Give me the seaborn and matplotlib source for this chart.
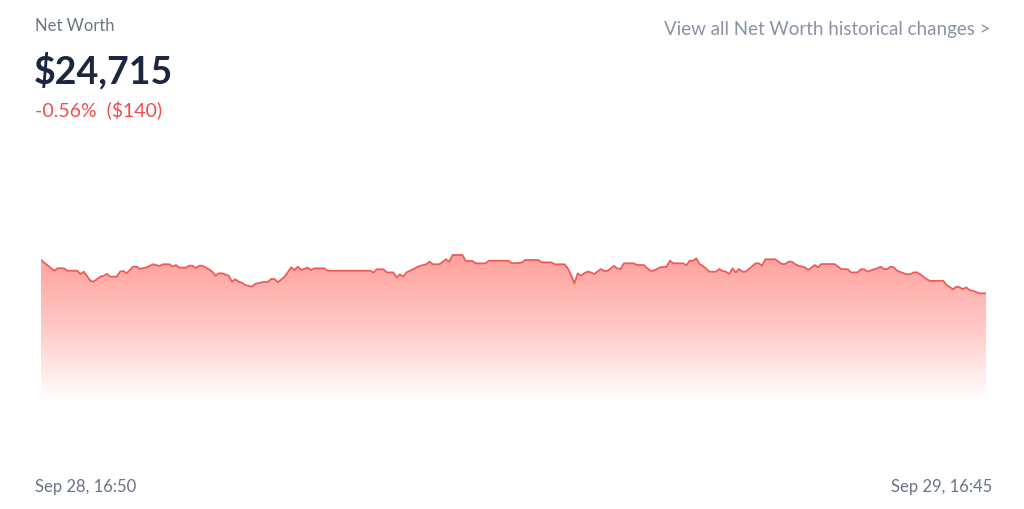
import pandas as pd
import numpy as np
import matplotlib
matplotlib.use("Agg")
import matplotlib.pyplot as plt
from matplotlib.colors import LinearSegmentedColormap
import seaborn as sns

# minutes after Sep 28, 16:50 and net worth in dollars
minutes = [0, 20, 25, 35, 40, 55, 60, 65, 75, 80, 90, 95, 100, 105, 115, 120, 125, 130, 140, 145,
           150, 160, 165, 170, 180, 185, 195, 200, 205, 210, 220, 225, 230, 235, 240, 245, 255, 260,
           265, 270, 275, 285, 290, 295, 300, 305, 310, 320, 325, 335, 345, 350, 355, 360, 370, 380,
           385, 390, 395, 405, 410, 415, 430, 435, 500, 505, 510, 520, 525, 535, 540, 545, 550, 555,
           565, 575, 585, 590, 595, 605, 615, 620, 625, 640, 645, 655, 660, 675, 680, 710, 715, 730,
           735, 755, 760, 775, 780, 795, 800, 805, 810, 815, 820, 825, 830, 835, 840, 850, 855, 860,
           870, 875, 880, 885, 900, 905, 915, 925, 930, 940, 950, 955, 960, 975, 980, 985, 990, 995,
           1000, 1005, 1015, 1025, 1030, 1035, 1040, 1045, 1050, 1055, 1060, 1065, 1070, 1085, 1090,
           1095, 1100, 1115, 1125, 1130, 1135, 1140, 1145, 1150, 1160, 1165, 1175, 1180, 1185, 1205,
           1215, 1225, 1230, 1240, 1245, 1250, 1255, 1265, 1270, 1275, 1280, 1285, 1290, 1295, 1300,
           1310, 1315, 1320, 1325, 1330, 1335, 1345, 1350, 1370, 1375, 1385, 1390, 1395, 1400, 1405,
           1410, 1415, 1425, 1435]
values = [24855, 24810, 24820, 24820, 24810, 24810, 24796, 24806, 24768, 24764, 24785, 24788, 24797,
          24785, 24785, 24806, 24809, 24799, 24827, 24827, 24818, 24824, 24830, 24837, 24830, 24837,
          24837, 24827, 24834, 24823, 24823, 24831, 24831, 24821, 24831, 24831, 24816, 24806, 24789,
          24799, 24799, 24789, 24764, 24774, 24764, 24760, 24750, 24743, 24754, 24761, 24764, 24776,
          24774, 24762, 24785, 24824, 24813, 24827, 24813, 24823, 24813, 24820, 24820, 24810, 24810,
          24802, 24816, 24816, 24803, 24803, 24782, 24795, 24785, 24803, 24816, 24830, 24837, 24848,
          24837, 24837, 24858, 24848, 24876, 24876, 24851, 24851, 24841, 24841, 24852, 24852, 24841,
          24844, 24855, 24855, 24845, 24845, 24837, 24837, 24820, 24792, 24757, 24799, 24789, 24799,
          24806, 24803, 24796, 24817, 24809, 24809, 24830, 24820, 24817, 24841, 24841, 24834, 24834,
          24810, 24810, 24824, 24827, 24852, 24841, 24841, 24833, 24852, 24852, 24862, 24838, 24830,
          24806, 24806, 24817, 24809, 24806, 24796, 24820, 24803, 24817, 24806, 24806, 24841, 24841,
          24831, 24858, 24858, 24838, 24838, 24848, 24848, 24838, 24831, 24824, 24813, 24834, 24824,
          24838, 24838, 24817, 24816, 24803, 24803, 24816, 24816, 24806, 24816, 24820, 24827, 24817,
          24817, 24827, 24824, 24810, 24799, 24795, 24795, 24803, 24803, 24795, 24774, 24767, 24768,
          24750, 24732, 24743, 24740, 24733, 24740, 24729, 24726, 24715, 24715]

start_label = "Sep 28, 16:50"
end_label = "Sep 29, 16:45"
title = "Net Worth"
current = "$24,715"
change = "-0.56%  ($140)"
link = "View all Net Worth historical changes >"

df = pd.DataFrame({"minute": minutes, "value": values})

sns.set_theme(style="white")
plt.rcParams["font.family"] = ["Lato", "DejaVu Sans"]

fig = plt.figure(figsize=(10.24, 5.09), dpi=100)
ax = fig.add_axes([41 / 1024, 109 / 509, 945 / 1024, 250 / 509])

line_color = "#f25a5a"
sns.lineplot(data=df, x="minute", y="value", ax=ax, color=line_color, linewidth=1.3)

ymin, ymax = 24267, 25317
ax.set_xlim(0, 1435)
ax.set_ylim(ymin, ymax)

# gradient fill under the line, clipped to the area
poly = ax.fill_between(df["minute"], df["value"], ymin, color="none")
cmap = LinearSegmentedColormap.from_list("fade", ["#ffffff", "#ffc9c6", "#ffa19c"])
grad = np.linspace(0, 1, 256).reshape(-1, 1)
top = max(values)
img = ax.imshow(grad, cmap=cmap, aspect="auto", origin="lower",
                extent=[0, 1435, ymin, top], zorder=1)
path = poly.get_paths()[0]
img.set_clip_path(path, transform=ax.transData)
ax.lines[0].set_zorder(3)

ax.set_axis_off()

fig.text(35 / 1024, 1 - 26 / 509, title, fontsize=12, color="#6b7385", va="center", ha="left")
fig.text(34 / 1024, 1 - 71 / 509, current, fontsize=27, color="#1c2640", fontweight="bold",
         va="center", ha="left")
fig.text(35 / 1024, 1 - 110 / 509, change, fontsize=14, color="#f04e4e", va="center", ha="left")
fig.text(991 / 1024, 1 - 29 / 509, link, fontsize=13.5, color="#8a93a5", va="center", ha="right")
fig.text(35 / 1024, 1 - 487 / 509, start_label, fontsize=12, color="#6b7385", va="center", ha="left")
fig.text(992 / 1024, 1 - 487 / 509, end_label, fontsize=12, color="#6b7385", va="center", ha="right")

fig.savefig("out.png", dpi=100, facecolor="white")
